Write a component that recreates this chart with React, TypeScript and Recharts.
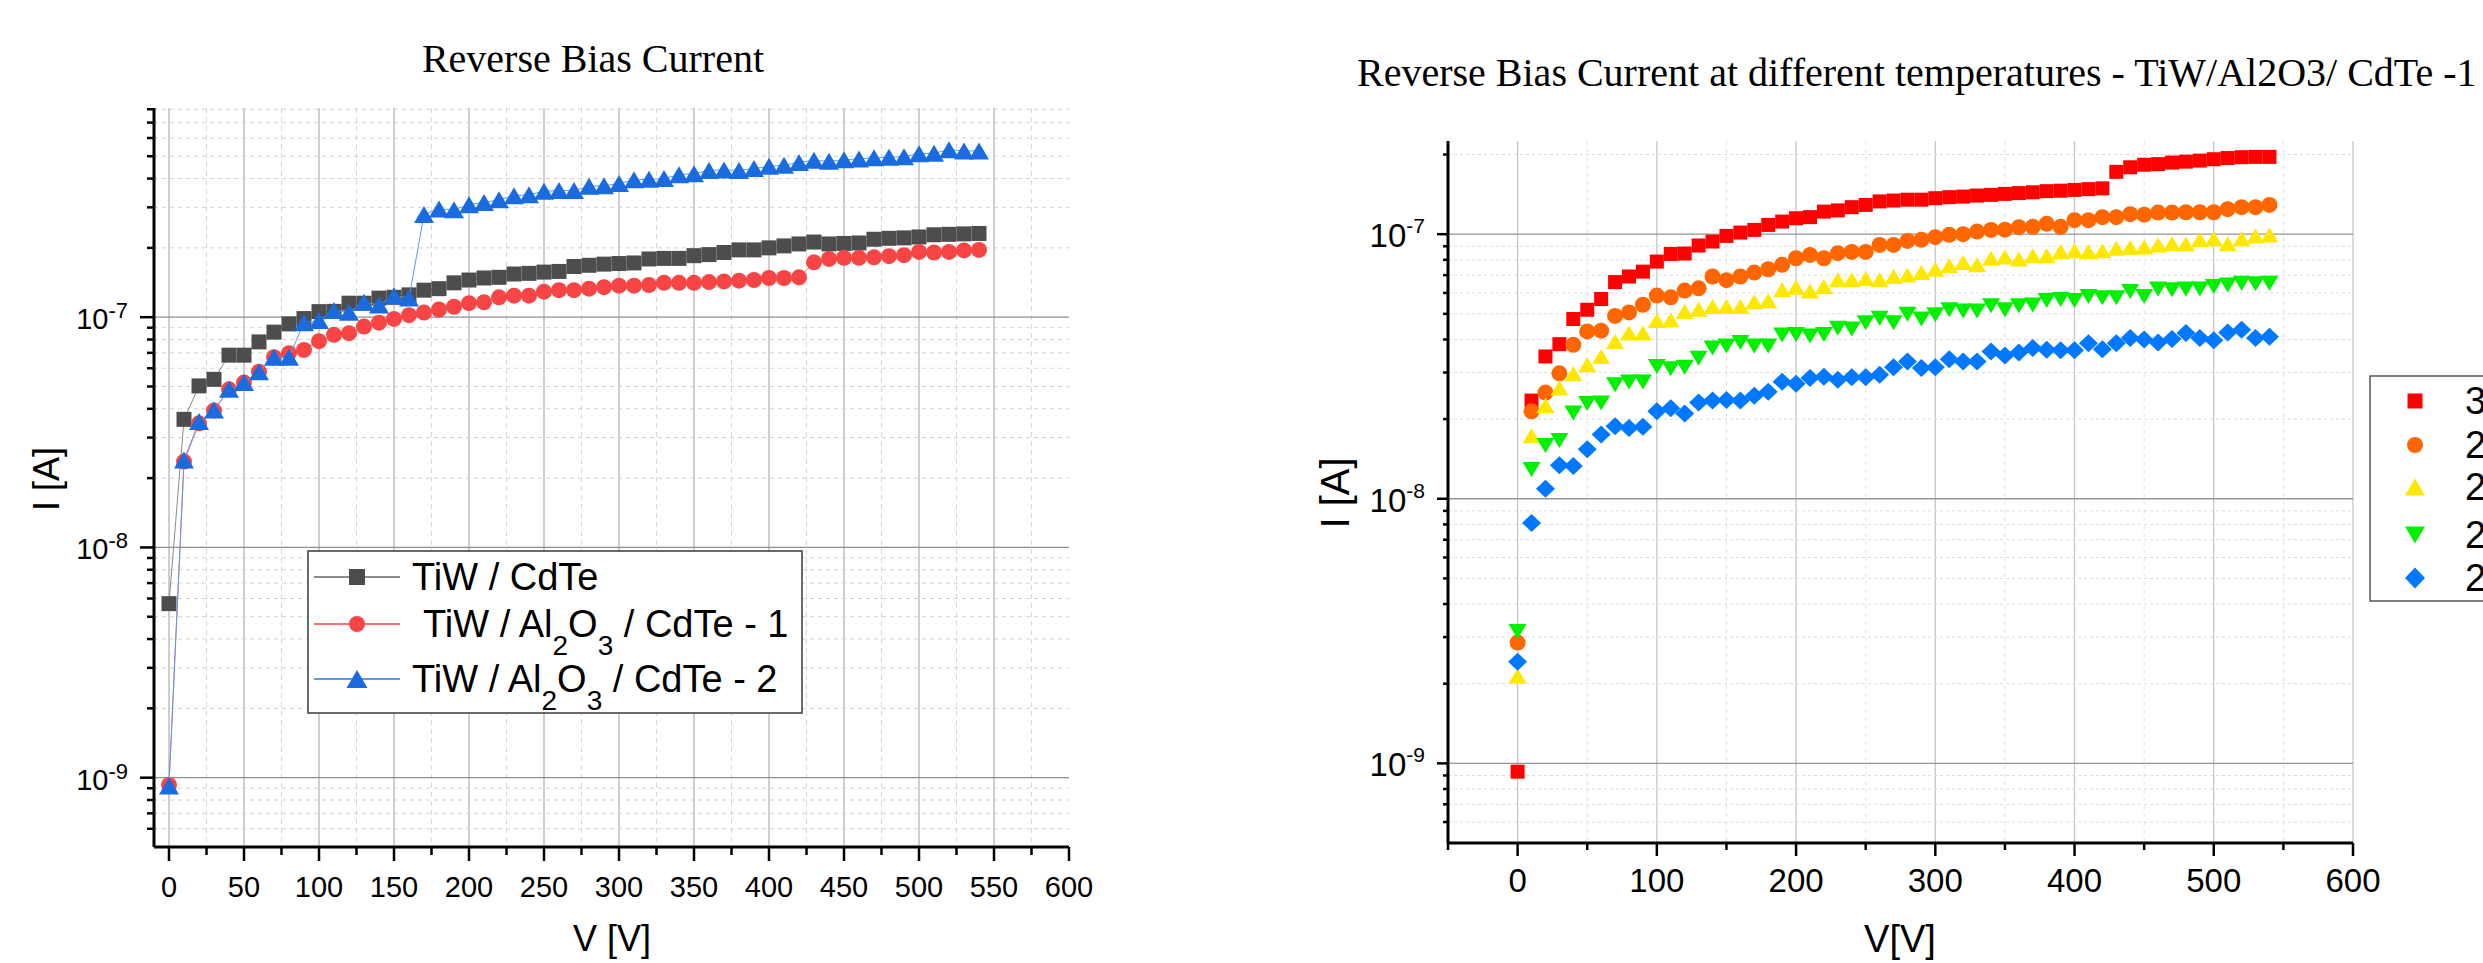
import React from "react";
import { ScatterChart, Scatter, XAxis, YAxis, CartesianGrid } from "recharts";

// bias voltage steps (V), shared by every series
const volts = [
  0, 10, 20, 30, 40, 50, 60, 70, 80, 90, 100, 110, 120, 130, 140, 150, 160, 170, 180, 190,
  200, 210, 220, 230, 240, 250, 260, 270, 280, 290, 300, 310, 320, 330, 340, 350, 360, 370,
  380, 390, 400, 410, 420, 430, 440, 450, 460, 470, 480, 490, 500, 510, 520, 530, 540,
];

// left chart, currents in nA
const tiwCdTe = [
  5.7, 36, 50.3, 53.7, 68.4, 68.4, 78.1, 86.1, 93.5, 98.6, 105.7, 106, 115, 115, 121, 122, 125,
  131, 133, 141, 145, 148, 149, 154, 155, 157, 158, 166, 168, 170, 171, 172, 179, 180, 180, 185,
  187, 191, 196, 196, 200, 204, 208, 212, 208, 209, 210, 218, 220, 221, 223, 228, 229, 230, 231,
];
const tiwAlOxCdTe1 = [
  0.93, 23.6, 34.6, 39.3, 48.6, 52, 58, 67, 69.8, 72.1, 78.7, 83.8, 85.2, 91, 94.7, 98.3, 102,
  104.7, 108, 111, 115, 116, 122, 124, 124, 129, 131, 131, 133, 135, 137, 137, 138, 141, 141, 141,
  142, 143, 144, 145, 148, 148, 149, 173, 179, 181, 181, 182, 184, 186, 192, 191, 192, 195, 196,
];
const tiwAlOxCdTe2 = [
  0.92, 24, 35.2, 39.5, 48.6, 52, 58, 67, 67, 94.7, 96.7, 107, 105, 116, 113, 124, 121, 279, 295,
  293, 308, 315, 324, 337, 340, 352, 355, 355, 370, 372, 381, 395, 397, 400, 416, 420, 434, 436,
  434, 442, 452, 457, 470, 480, 475, 483, 487, 492, 495, 498, 513, 515, 534, 527, 527,
];

// right chart, currents in nA per temperature
const t300 = [
  0.93, 23.5, 34.5, 38.4, 47.8, 51.8, 56.9, 65.9, 69.2, 72.2, 78.8, 84.2, 84.5, 90.6, 93.8, 98.5,
  101.4, 103.8, 108.4, 111.6, 114.9, 116, 121.7, 123, 126.5, 129, 133, 134, 135, 135, 136.8, 138,
  138.7, 140, 140.8, 142, 143, 144, 145.4, 146, 147, 148, 149, 172, 179, 183, 184, 186.5, 188,
  189.7, 192, 194, 195.4, 196, 196,
];
const t290 = [
  2.86, 21.4, 25.2, 29.8, 38.2, 42.9, 43.2, 49.1, 50.6, 54.1, 58.6, 57.7, 61.2, 62.4, 69.2, 67,
  69.2, 71.6, 73.7, 76.6, 81.1, 83.5, 81.1, 84.8, 85.7, 85.7, 91.1, 91.1, 94.3, 95.2, 97.4, 99.4,
  100, 102.3, 103.8, 104, 106.3, 106.6, 109.4, 106.6, 113, 113, 116, 116, 119, 118.5, 120.7, 120.7,
  121, 121, 121, 124.3, 126.5, 126.5, 129,
];
const t280 = [
  2.14, 17.3, 22.5, 26.2, 29.7, 32.1, 34.5, 39.3, 42.3, 42.3, 47.2, 47.4, 51, 52, 53.3, 53.3, 53.3,
  55.6, 56, 61.6, 63, 61, 63.4, 67.2, 67.2, 68, 67.2, 69.2, 70.1, 71.6, 73.7, 75.9, 78.1, 76.6,
  81.1, 82, 80.5, 82.8, 82.8, 86, 86.5, 86, 86.5, 88.5, 89, 89.5, 91.1, 92, 91.8, 95.2, 96.2, 92,
  96.2, 98.5, 99.3,
];
const t270 = [
  3.15, 12.9, 15.9, 16.6, 21.1, 22.9, 23, 27, 27.6, 27.6, 31.6, 31, 31.4, 34, 37.1, 37.8, 39, 37.8,
  37.8, 41.6, 41.8, 41.2, 41.8, 44.1, 43.8, 46.3, 48.1, 46.3, 49.8, 47.8, 49.6, 51.8, 51.2, 51.2,
  53.6, 51.8, 53.6, 54, 56.1, 56.6, 56.1, 58.1, 57.5, 57.5, 60.7, 58.1, 62, 61.7, 62, 62, 63.4,
  64.2, 65.3, 65, 65.3,
];
const t260 = [
  2.42, 8.1, 10.9, 13.4, 13.3, 15.4, 17.5, 18.8, 18.5, 18.7, 21.4, 22, 21, 23.1, 23.5, 23.6, 23.5,
  24.5, 25.4, 27.7, 27.2, 28.6, 28.9, 28.2, 28.8, 28.8, 29.4, 31.4, 33, 31.2, 31.4, 33.7, 33, 33,
  36, 34.8, 35.7, 37.1, 36.6, 36.4, 36.4, 38.7, 36.7, 38.7, 40.5, 40, 39, 40.2, 42.3, 40.5, 39.7,
  42.5, 43.5, 40.5, 41,
];

// axis ticks (V and nA)
const leftXTicks = [0, 25, 50, 75, 100, 125, 150, 175, 200, 225, 250, 275, 300, 325, 350, 375, 400, 425, 450, 475, 500, 525, 550, 575, 600];
const leftXLabels = [0, 50, 100, 150, 200, 250, 300, 350, 400, 450, 500, 550, 600];
const leftXMinor = [25, 75, 125, 175, 225, 275, 325, 375, 425, 475, 525, 575];
const rightXTicks = [-50, 0, 50, 100, 150, 200, 250, 300, 350, 400, 450, 500, 550, 600];
const rightXLabels = [0, 100, 200, 300, 400, 500, 600];
const rightXMinor = [50, 150, 250, 350, 450, 550];
const decades = [1, 10, 100];
const leftYMinor = [0.6, 0.7, 0.8, 0.9, 2, 3, 4, 5, 6, 7, 8, 9, 20, 30, 40, 50, 60, 70, 80, 90, 200, 300, 400, 500, 600, 700, 800];
const rightYMinor = [0.6, 0.7, 0.8, 0.9, 2, 3, 4, 5, 6, 7, 8, 9, 20, 30, 40, 50, 60, 70, 80, 90, 200];

const leftSeries = [
  { name: "TiW / CdTe", values: tiwCdTe, kind: "square", fill: "#4d4d4d", line: "#8c8c8c", w: 15, h: 15 },
  { name: "TiW / Al2O3 / CdTe - 1", values: tiwAlOxCdTe1, kind: "circle", fill: "#f74444", line: "#ff7070", w: 16, h: 16 },
  { name: "TiW / Al2O3 / CdTe - 2", values: tiwAlOxCdTe2, kind: "triangle", fill: "#1a6be0", line: "#5a9af0", w: 20, h: 17 },
];
const rightSeries = [
  { name: "300 K", values: t300, kind: "square", fill: "#ff0000", w: 14, h: 14 },
  { name: "290 K", values: t290, kind: "circle", fill: "#ff6600", w: 16, h: 16 },
  { name: "280 K", values: t280, kind: "triangle", fill: "#ffe800", w: 18, h: 15 },
  { name: "270 K", values: t270, kind: "down", fill: "#00f000", w: 18, h: 15 },
  { name: "260 K", values: t260, kind: "diamond", fill: "#0078ff", w: 19, h: 18 },
];

const SANS = "'Liberation Sans', Arial, Helvetica, sans-serif";
const SERIF = "'Liberation Serif', 'Times New Roman', serif";

function Marker({ kind, cx, cy, w, h, fill }: any) {
  if (kind === "circle") return <ellipse cx={cx} cy={cy} rx={w / 2} ry={h / 2} fill={fill} />;
  let d = "";
  if (kind === "square") d = `M${cx - w / 2},${cy - h / 2}h${w}v${h}h${-w}Z`;
  if (kind === "triangle") d = `M${cx},${cy - h / 2}L${cx + w / 2},${cy + h / 2}L${cx - w / 2},${cy + h / 2}Z`;
  if (kind === "down") d = `M${cx - w / 2},${cy - h / 2}L${cx + w / 2},${cy - h / 2}L${cx},${cy + h / 2}Z`;
  if (kind === "diamond") d = `M${cx},${cy - h / 2}L${cx + w / 2},${cy}L${cx},${cy + h / 2}L${cx - w / 2},${cy}Z`;
  return <path d={d} fill={fill} />;
}

// x ticks: line drawn downward from the axis line (outward at the bottom, inward at the top)
function xTick(majors: number[], labels: number[], majorLen: number, minorLen: number, fontSize: number, labelDy: number) {
  return (props: any) => {
    const { x, y, payload } = props;
    const v = payload.value;
    return (
      <g>
        <line x1={x} x2={x} y1={y} y2={y + (majors.includes(v) ? majorLen : minorLen)} stroke="#000" strokeWidth={2.5} />
        {labels.includes(v) && (
          <text x={x} y={y + labelDy} textAnchor="middle" fontSize={fontSize} fontFamily={SANS} fill="#000">
            {v}
          </text>
        )}
      </g>
    );
  };
}

// y ticks: line drawn to the left (outward on the left axis, inward on the right one)
function yTick(majorLen: number, minorLen: number, label: null | { fs: number; sup: number; gap: number; dy: number; supDy: number }) {
  return (props: any) => {
    const { x, y, payload } = props;
    const v = payload.value;
    const major = decades.includes(v);
    return (
      <g>
        <line x1={x} x2={x - (major ? majorLen : minorLen)} y1={y} y2={y} stroke="#000" strokeWidth={2.5} />
        {label && major && (
          <text x={x - label.gap} y={y + label.dy} textAnchor="end" fontSize={label.fs} fontFamily={SANS} fill="#000">
            <tspan>10</tspan>
            <tspan dy={label.supDy} fontSize={label.sup}>{`-${9 - Math.round(Math.log10(v))}`}</tspan>
          </text>
        )}
      </g>
    );
  };
}

const frame = { stroke: "#000", strokeWidth: 3 };

function LeftChart() {
  return (
    <ScatterChart width={1100} height={963} margin={{ top: 108, right: 31, bottom: 56, left: 54 }}>
      <CartesianGrid horizontal={false} verticalValues={leftXLabels.slice(0, -1)} stroke="#b4b4b4" strokeWidth={1.3} />
      <CartesianGrid horizontal={false} verticalValues={leftXMinor} stroke="#d6d6d6" strokeDasharray="5 4" />
      <CartesianGrid vertical={false} horizontalValues={leftYMinor} stroke="#d2d2d2" strokeDasharray="4 4" />
      <CartesianGrid vertical={false} horizontalValues={decades} stroke="#8f8f8f" strokeWidth={1.3} />
      <XAxis dataKey="v" type="number" domain={[-10, 600]} allowDataOverflow ticks={leftXTicks} interval={0}
        tick={xTick(leftXLabels, leftXLabels, 14, 8, 29, 50)} tickLine={false} tickSize={0} tickMargin={0} axisLine={frame} height={60} />
      <XAxis xAxisId="top" orientation="top" type="number" domain={[-10, 600]} allowDataOverflow ticks={leftXTicks} interval={0}
        tick={xTick(leftXLabels, [], 15, 7, 29, 0)} tickLine={false} tickSize={0} tickMargin={0} axisLine={frame} height={0} />
      <YAxis dataKey="i" type="number" scale="log" domain={[0.5, 810]} allowDataOverflow ticks={[...decades, ...leftYMinor]} interval={0}
        tick={yTick(14, 7, { fs: 29, sup: 22, gap: 26, dy: 12, supDy: -11 })} tickLine={false} tickSize={0} tickMargin={0} axisLine={frame} width={100} />
      <YAxis yAxisId="right" orientation="right" type="number" scale="log" domain={[0.5, 810]} allowDataOverflow ticks={[...decades, ...leftYMinor]} interval={0}
        tick={yTick(14, 7, null)} tickLine={false} tickSize={0} tickMargin={0} axisLine={frame} width={0} />
      {leftSeries.map((s) => (
        <Scatter key={s.name} name={s.name} data={volts.map((v, k) => ({ v, i: s.values[k] }))} fill={s.fill}
          line={{ stroke: s.line, strokeWidth: 1 }} lineType="joint" isAnimationActive={false}
          shape={(p: any) => <Marker kind={s.kind} cx={p.cx} cy={p.cy} w={s.w} h={s.h} fill={s.fill} />} />
      ))}
    </ScatterChart>
  );
}

function RightChart() {
  return (
    <ScatterChart width={1183} height={963} margin={{ top: 141, right: 130, bottom: 60, left: 48 }}>
      <CartesianGrid horizontal={false} verticalValues={rightXLabels} stroke="#c6c6c6" strokeWidth={1.3} />
      <CartesianGrid horizontal={false} verticalValues={rightXMinor} stroke="#e0e0e0" strokeDasharray="4 4" />
      <CartesianGrid vertical={false} horizontalValues={rightYMinor} stroke="#dcdcdc" strokeDasharray="3 3" />
      <CartesianGrid vertical={false} horizontalValues={decades} stroke="#959595" strokeWidth={1.3} />
      <XAxis dataKey="v" type="number" domain={[-50, 600]} allowDataOverflow ticks={rightXTicks} interval={0}
        tick={xTick(rightXLabels, rightXLabels, 13, 7, 33, 49)} tickLine={false} tickSize={0} tickMargin={0} axisLine={frame} height={60} />
      <XAxis xAxisId="top" orientation="top" type="number" domain={[-50, 600]} allowDataOverflow ticks={rightXTicks} interval={0}
        tick={xTick(rightXLabels, [], 14, 6, 33, 0)} tickLine={false} tickSize={0} tickMargin={0} axisLine={frame} height={0} />
      <YAxis dataKey="i" type="number" scale="log" domain={[0.5, 225]} allowDataOverflow ticks={[...decades, ...rightYMinor]} interval={0}
        tick={yTick(11, 5, { fs: 33, sup: 21, gap: 23, dy: 13, supDy: -14 })} tickLine={false} tickSize={0} tickMargin={0} axisLine={frame} width={100} />
      <YAxis yAxisId="right" orientation="right" type="number" scale="log" domain={[0.5, 225]} allowDataOverflow ticks={[...decades, ...rightYMinor]} interval={0}
        tick={yTick(12, 5, null)} tickLine={false} tickSize={0} tickMargin={0} axisLine={frame} width={0} />
      {rightSeries.map((s) => (
        <Scatter key={s.name} name={s.name} data={volts.map((v, k) => ({ v, i: s.values[k] }))} fill={s.fill} isAnimationActive={false}
          shape={(p: any) => <Marker kind={s.kind} cx={p.cx} cy={p.cy} w={s.w} h={s.h} fill={s.fill} />} />
      ))}
    </ScatterChart>
  );
}

function AlOxLabel({ x, y, text }: any) {
  // "TiW / Al2O3 / CdTe - n" with subscripts
  const tail = text.split("Al2O3")[1];
  return (
    <text x={x} y={y} fontSize={38} fontFamily={SANS} fill="#000" style={{ whiteSpace: "pre" }}>
      <tspan>TiW / Al</tspan>
      <tspan dy={18} fontSize={28}>2</tspan>
      <tspan dy={-18}>O</tspan>
      <tspan dy={18} fontSize={28}>3</tspan>
      <tspan dy={-18}>{tail}</tspan>
    </text>
  );
}

export default function App() {
  const leftRows = [577, 624, 679];
  const rightRows = [401, 445, 487, 535, 578];
  return (
    <div style={{ position: "absolute", left: 0, top: 0, width: 2483, height: 963, background: "#fff", overflow: "hidden" }}>
      <div style={{ position: "absolute", left: 0, top: 0 }}>
        <LeftChart />
      </div>
      <div style={{ position: "absolute", left: 1300, top: 0 }}>
        <RightChart />
      </div>
      <svg width={2483} height={963} style={{ position: "absolute", left: 0, top: 0, pointerEvents: "none" }}>
        <text x={593} y={72} textAnchor="middle" fontSize={40} fontFamily={SERIF} fill="#000">Reverse Bias Current</text>
        <text x={1357} y={86} fontSize={40} fontFamily={SERIF} fill="#000">
          Reverse Bias Current at different temperatures - TiW/Al2O3/ CdTe -1
        </text>
        <text x={612} y={951} textAnchor="middle" fontSize={36} fontFamily={SANS} fill="#000">V [V]</text>
        <text transform="translate(59,479) rotate(-90)" textAnchor="middle" fontSize={36} fontFamily={SANS} fill="#000">I [A]</text>
        <text x={1900} y={952} textAnchor="middle" fontSize={38} fontFamily={SANS} fill="#000">V[V]</text>
        <text transform="translate(1349,493) rotate(-90)" textAnchor="middle" fontSize={40} fontFamily={SANS} fill="#000">I [A]</text>

        <rect x={308} y={551} width={494} height={162} fill="#fff" stroke="#3a3a3a" strokeWidth={1.5} />
        {leftSeries.map((s, k) => (
          <g key={s.name}>
            <line x1={314} x2={400} y1={leftRows[k]} y2={leftRows[k]} stroke={s.line} strokeWidth={2} />
            <Marker kind={s.kind} cx={357} cy={leftRows[k]} w={s.kind === "triangle" ? 21 : 16} h={s.kind === "triangle" ? 18 : 16} fill={s.fill} />
            {s.name.includes("Al2O3") ? (
              <AlOxLabel x={k === 1 ? 423 : 412} y={leftRows[k] + 13} text={s.name} />
            ) : (
              <text x={412} y={leftRows[k] + 13} fontSize={38} fontFamily={SANS} fill="#000">{s.name}</text>
            )}
          </g>
        ))}

        <rect x={2370} y={376} width={200} height={225} fill="#fff" stroke="#555" strokeWidth={1.5} />
        {rightSeries.map((s, k) => (
          <g key={s.name}>
            <Marker kind={s.kind} cx={2415} cy={rightRows[k]} w={s.kind === "square" ? 15 : s.kind === "circle" ? 16 : 20} h={s.kind === "square" ? 15 : s.kind === "circle" ? 16 : s.kind === "diamond" ? 21 : 17} fill={s.fill} />
            <text x={2465} y={rightRows[k] + 13} fontSize={38} fontFamily={SANS} fill="#000">{s.name}</text>
          </g>
        ))}
      </svg>
    </div>
  );
}
